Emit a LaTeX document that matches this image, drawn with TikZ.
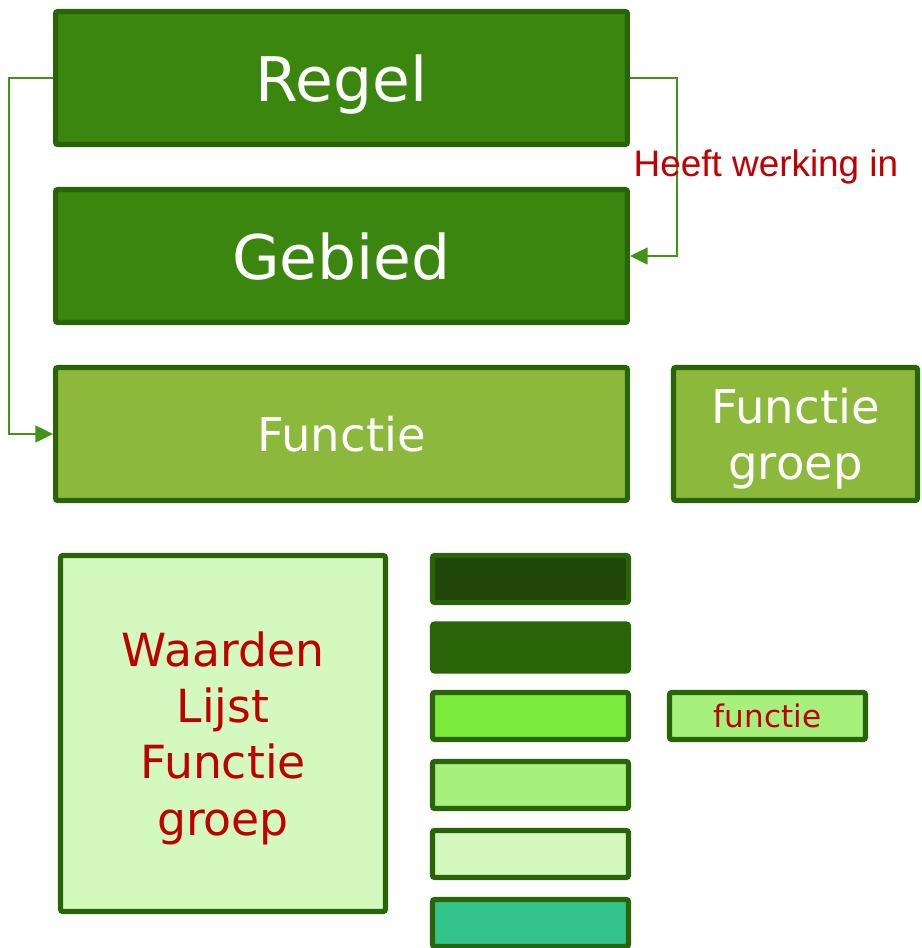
\documentclass[tikz,border=0pt]{standalone}
\usepackage{fontspec}
\setmainfont{DejaVu Sans}
\newfontfamily\arialfont{Liberation Sans}
\usetikzlibrary{arrows.meta}
\definecolor{rand}{HTML}{2A6408}
\definecolor{donker}{HTML}{3A860E}
\definecolor{olijf}{HTML}{8CB83C}
\definecolor{bleek}{HTML}{D4F9BF}
\definecolor{licht}{HTML}{A6F17C}
\definecolor{fel}{HTML}{7AEB3A}
\definecolor{zwart}{HTML}{1F4607}
\definecolor{teal}{HTML}{33C48B}
\definecolor{lijn}{HTML}{43921A}
\definecolor{rood}{HTML}{C00000}

\begin{document}
\begin{tikzpicture}[x=0.02cm,y=-0.02cm,
   blok/.style={draw=rand,line width=2.9pt,rounded corners=1.2pt,inner sep=0pt,align=center,text depth=0pt},
   groot/.style={blok,minimum width=11.44cm,minimum height=2.66cm},
   staaf/.style={blok,minimum width=3.92cm,minimum height=0.94cm},
   pijl/.style={draw=lijn,line width=1.2pt,-{Triangle[length=10pt,width=9.5pt]}}]
   \useasboundingbox (0,0) rectangle (921,948);
   \begin{scope}
   \clip (0,0) rectangle (921,948);
   \node[groot,fill=donker,text=white,font=\fontsize{35}{42}\selectfont] (regel)  at (341.5,78)  {Regel};
   \node[groot,fill=donker,text=white,font=\fontsize{35}{42}\selectfont] (gebied) at (341.5,256) {Gebied};
   \node[groot,fill=olijf,text=white,font=\fontsize{26.5}{32}\selectfont] (functie) at (341.5,434) {Functie};
   \node[blok,fill=olijf,text=white,font=\fontsize{26.5}{32}\selectfont,
         minimum width=4.88cm,minimum height=2.66cm] (groep) at (795.5,434) {Functie\\groep};
   \node[blok,fill=bleek,text=rood,font=\fontsize{26}{32}\selectfont,
         minimum width=6.5cm,minimum height=7.12cm] (lijst) at (223,733.5) {Waarden\\Lijst\\Functie\\groep};
   \node[staaf,fill=zwart]  (s1) at (530.5,579)   {};
   \node[staaf,fill=rand]   (s2) at (530.5,647.5) {};
   \node[staaf,fill=fel]    (s3) at (530.5,716)   {};
   \node[staaf,fill=licht]  (s4) at (530.5,785)   {};
   \node[staaf,fill=bleek]  (s5) at (530.5,854)   {};
   \node[staaf,fill=teal]   (s6) at (530.5,923)   {};
   \node[staaf,fill=licht,text=rood,font=\fontsize{17.7}{21}\selectfont] (klein) at (767.5,716) {functie};
   \end{scope}
   \draw[pijl] (regel.west) -- (9,78) -- (9,434) -- (functie.west);
   \draw[pijl] (regel.east) -- (677,78) -- (677,256) -- (gebied.east);
   \node[text=rood,font=\arialfont\fontsize{21}{25}\selectfont] (werking) at (766,167) {Heeft werking in};
\end{tikzpicture}
\end{document}
